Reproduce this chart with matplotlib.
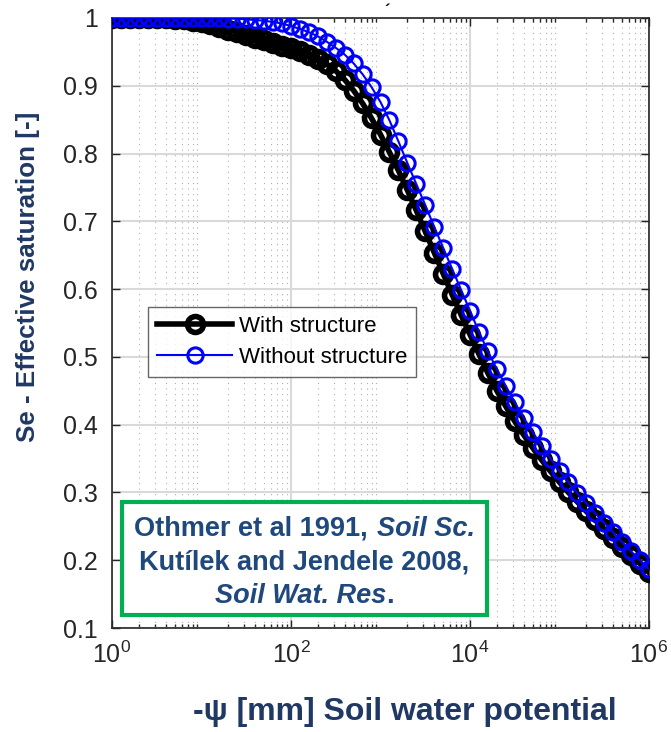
import matplotlib
matplotlib.use("Agg")
import matplotlib.pyplot as plt
import numpy as np
from matplotlib.patches import Rectangle
from matplotlib.ticker import FixedLocator, FixedFormatter, LogLocator, NullFormatter

plt.rcParams['font.family'] = ['Liberation Sans', 'DejaVu Sans']
plt.rcParams['mathtext.fontset'] = 'custom'
plt.rcParams['mathtext.rm'] = 'Liberation Sans'

# Data -------------------------------------------------------------
# x = 10^0 ... 10^6, one point every 0.1 decade
log_psi = np.round(np.arange(0, 61) * 0.1, 1)
psi = 10.0 ** log_psi

se_with_structure = [
    1.000, 1.000, 1.000, 1.000, 1.000, 1.000, 1.000, 0.999, 0.998, 0.996,
    0.994, 0.991, 0.987, 0.983, 0.979, 0.975, 0.971, 0.967, 0.963, 0.959,
    0.955, 0.951, 0.946, 0.940, 0.932, 0.922, 0.909, 0.893, 0.874, 0.852,
    0.828, 0.802, 0.775, 0.746, 0.716, 0.685, 0.654, 0.623, 0.592, 0.562,
    0.533, 0.504, 0.476, 0.450, 0.427, 0.405, 0.385, 0.366, 0.348, 0.331,
    0.315, 0.300, 0.286, 0.272, 0.259, 0.246, 0.233, 0.220, 0.207, 0.195,
    0.182]
se_without_structure = [
    1.000, 1.000, 1.000, 1.000, 1.000, 1.000, 1.000, 1.000, 1.000, 1.000,
    1.000, 1.000, 1.000, 0.999, 0.999, 0.998, 0.997, 0.996, 0.994, 0.992,
    0.988, 0.984, 0.979, 0.973, 0.965, 0.956, 0.946, 0.933, 0.917, 0.898,
    0.876, 0.849, 0.818, 0.786, 0.755, 0.724, 0.692, 0.661, 0.630, 0.599,
    0.568, 0.537, 0.508, 0.482, 0.457, 0.433, 0.410, 0.389, 0.369, 0.350,
    0.332, 0.315, 0.299, 0.284, 0.269, 0.255, 0.241, 0.227, 0.213, 0.200,
    0.187]

y_ticks = [0.1, 0.2, 0.3, 0.4, 0.5, 0.6, 0.7, 0.8, 0.9, 1.0]
y_tick_labels = ['0.1', '0.2', '0.3', '0.4', '0.5', '0.6', '0.7', '0.8', '0.9', '1']
x_ticks = [1e0, 1e2, 1e4, 1e6]
x_tick_labels = [r'$\mathdefault{10^{0}}$', r'$\mathdefault{10^{2}}$',
                 r'$\mathdefault{10^{4}}$', r'$\mathdefault{10^{6}}$']

label_color = '#1f3864'
box_text_color = '#1f497d'
tick_color = '#262626'

# Figure -------------------------------------------------------------
fig = plt.figure(figsize=(6.71, 7.32), dpi=100)
ax = fig.add_axes([112/671, 1-628/732, (649-112)/671, (628-18)/732])

ax.plot(psi, se_with_structure, color='black', linewidth=4, marker='o',
        markersize=11.5, markeredgewidth=4, markerfacecolor='none',
        label='With structure', zorder=3)
ax.plot(psi, se_without_structure, color='#0000ff', linewidth=1.5, marker='o',
        markersize=11, markeredgewidth=2.2, markerfacecolor='none',
        label='Without structure', zorder=4)

ax.set_xscale('log')
ax.set_xlim(1, 1e6)
ax.set_ylim(0.1, 1.0)
ax.xaxis.set_major_locator(FixedLocator(x_ticks))
ax.xaxis.set_major_formatter(FixedFormatter(x_tick_labels))
ax.xaxis.set_minor_locator(LogLocator(base=10, subs=np.arange(2, 10), numticks=20))
ax.xaxis.set_minor_formatter(NullFormatter())
ax.yaxis.set_major_locator(FixedLocator(y_ticks))
ax.yaxis.set_major_formatter(FixedFormatter(y_tick_labels))

ax.tick_params(which='both', direction='in', top=True, right=True, colors=tick_color,
               labelsize=18, width=1)
ax.tick_params(which='major', length=6)
ax.tick_params(which='minor', length=3)
ax.tick_params(axis='x', pad=10)
ax.tick_params(axis='y', pad=10)
for sp in ax.spines.values():
    sp.set_color(tick_color)
    sp.set_linewidth(1.2)

ax.set_axisbelow(True)
ax.grid(which='major', color='#d9d9d9', linewidth=1.5, linestyle='-')
ax.xaxis.grid(which='minor', color='#b0b0b0', linewidth=0.8, linestyle=(0, (1, 4)))

leg = ax.legend(loc='upper left', bbox_to_anchor=((148-112)/537, (628-307)/610),
                fontsize=16, frameon=True, fancybox=False, handlelength=3.4,
                borderpad=0.4, labelspacing=0.45, handletextpad=0.3, borderaxespad=0)
leg.get_frame().set_edgecolor('#404040')
leg.get_frame().set_linewidth(1.0)
for t in leg.get_texts():
    t.set_color('black')

# Axis labels ---------------------------------------------------------
fig.text(405/671, 1-712/732, r'-ψ [mm] Soil water potential', ha='center', va='center',
         fontsize=23, fontweight='bold', color=label_color)
fig.text(28/671, 1-277/732, 'Se - Effective saturation [-]', ha='center', va='center',
         rotation=90, fontsize=18.7, fontweight='bold', color=label_color)
fig.text(387/671, 1-12/732, '\u00b4', ha='center', va='center', fontsize=12,
         fontweight='bold', color='black')

# Reference box -------------------------------------------------------
box = Rectangle((122/671, 1-615/732), 365/671, 113/732, transform=fig.transFigure,
                facecolor='white', edgecolor='#00b050', linewidth=3, clip_on=False, zorder=6)
ax.add_patch(box)

box_lines = [
    (536, [('Othmer et al 1991,', 'normal', 0), ('Soil Sc.', 'italic', 9)]),
    (569, [('Kutílek and Jendele 2008,', 'normal', 0)]),
    (603, [('Soil Wat. Res', 'italic', 0), ('.', 'normal', 0)]),
]
box_cx = (122 + 487) / 2

fig.canvas.draw()
renderer = fig.canvas.get_renderer()
for y_px, parts in box_lines:
    texts = []
    for s, style, gap in parts:
        t = ax.text(0, 1-y_px/732, s, transform=fig.transFigure, fontsize=19.5,
                    fontweight='bold', fontstyle=style, color=box_text_color,
                    va='baseline', ha='left', zorder=7, clip_on=False)
        texts.append((t, gap))
    widths = [t.get_window_extent(renderer).width for t, g in texts]
    total = sum(widths) + sum(g for t, g in texts)
    x = box_cx - total / 2
    for (t, gap), w in zip(texts, widths):
        x += gap
        t.set_x(x / 671)
        x += w

fig.savefig('out.png', dpi=100)
